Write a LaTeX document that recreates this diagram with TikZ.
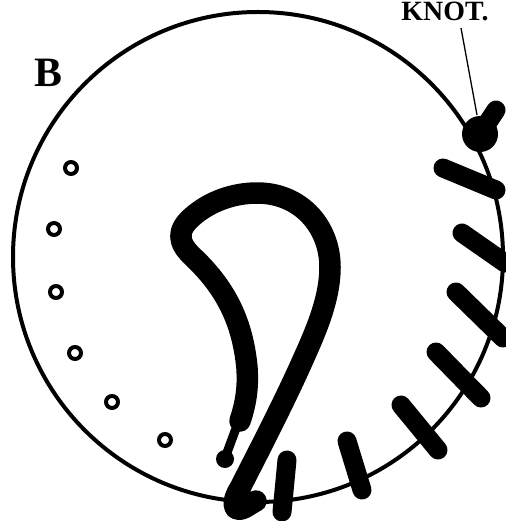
\documentclass[tikz,border=0pt]{standalone}
\usepackage{fontspec}
\setmainfont{Liberation Serif}
\begin{document}
\begin{tikzpicture}[x=1bp,y=-1bp,
  ink/.style={draw=black,line cap=round,line join=round},
  ringline/.style={draw=black,line width=4bp},
  tick/.style={ink,line width=19bp},
  hole/.style={circle,draw=black,fill=white,line width=4bp,minimum size=12bp,inner sep=0pt},
  label/.style={inner sep=0pt,font=\bfseries}]
\useasboundingbox (0,0) rectangle (506,521);
\draw[ringline] (258,257) circle (245);
% ticks
\foreach \a/\b/\c/\d in {443/168/496/190, 462/233/505/263, 456/292/503/338, 436/352/481/398, 401/405/438/450, 347/441/362/490, 287/460/282/512}
  \draw[tick] (\a,\b) -- (\c,\d);
% knot
\fill (480,134) circle (18);
\draw[tick] (480,134) -- (496,110);
\coordinate (knotend) at (477,115);
\node[label,font=\bfseries\fontsize{28}{28}\selectfont,anchor=base] (knot) at (445,21) {KNOT.};
\draw[line width=1.3bp] (461,28) -- (knotend);
\node[label,font=\bfseries\fontsize{42}{42}\selectfont,anchor=base] (b) at (48,87) {B};
% holes
\foreach \n/\x/\y in {h1/71/168, h2/54/229, h3/56/292, h4/75/353, h5/112/402, h6/165/440}
  \node[hole] (\n) at (\x,\y) {};
% cord
\draw[ink,line width=21.5bp]
  (240,421) .. controls (247,400) and (248,385) .. (247,368)
  .. controls (243,325) and (228,290) .. (193,257)
  .. controls (178,243) and (176,231) .. (192,217)
  .. controls (210,201) and (234,193) .. (257,193)
  .. controls (302,193) and (330,228) .. (330,267)
  .. controls (330,300) and (315,333) .. (302,362)
  .. controls (285,400) and (262,445) .. (240,488)
  .. controls (230,504) and (234,513) .. (244,508)
  .. controls (248,506) and (252,503) .. (256,501);
\draw[ink,line width=9bp] (238,423) -- (225,458);
\node[circle,fill=black,minimum size=18bp,inner sep=0pt] (bead) at (225,459) {};
\end{tikzpicture}
\end{document}
